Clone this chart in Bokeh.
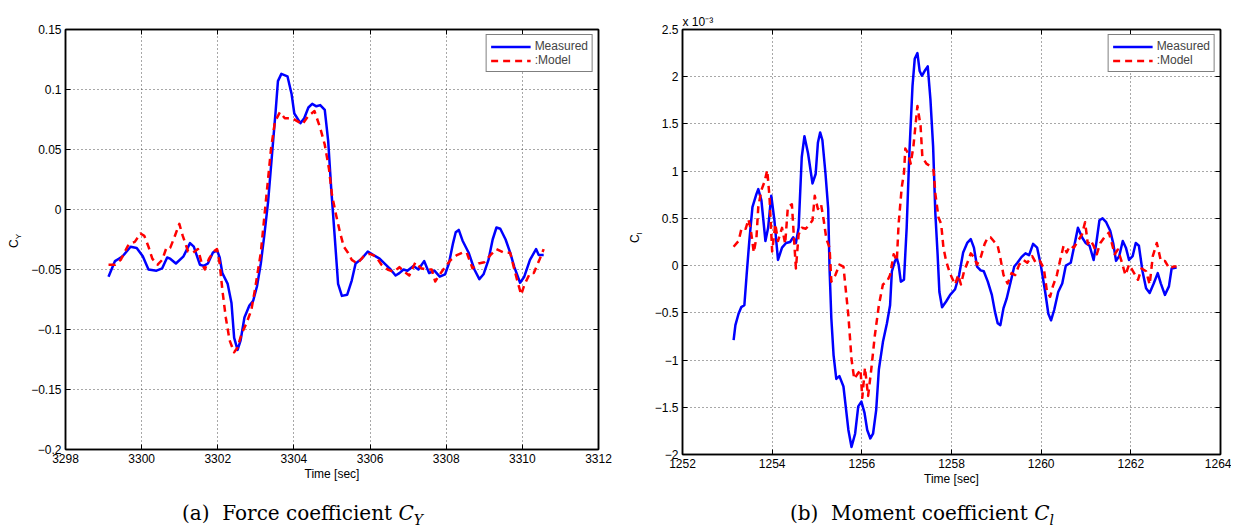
from bokeh.plotting import figure
from bokeh.layouts import row, column
from bokeh.models import (FixedTicker, CustomJSTickFormatter, LinearAxis, Title, Div,
                          Legend, LegendItem, Range1d)
from bokeh.embed import file_html
from bokeh.resources import INLINE

# ---------------- data: (a) side-force coefficient C_Y ----------------
cy_meas_t = [3299.13, 3299.3, 3299.4, 3299.5, 3299.71, 3299.87, 3300.03, 3300.18, 3300.39, 3300.54,
             3300.67, 3300.75, 3300.9, 3301.1, 3301.27, 3301.37, 3301.53, 3301.63, 3301.74, 3301.87,
             3301.98, 3302.05, 3302.12, 3302.26, 3302.36, 3302.43, 3302.52, 3302.6, 3302.7, 3302.83,
             3302.93, 3303.03, 3303.13, 3303.22, 3303.32, 3303.43, 3303.52, 3303.58, 3303.67, 3303.83,
             3303.94, 3304.01, 3304.17, 3304.27, 3304.38, 3304.48, 3304.59, 3304.69, 3304.81, 3304.9,
             3304.98, 3305.07, 3305.16, 3305.26, 3305.4, 3305.52, 3305.62, 3305.78, 3305.94, 3306.09,
             3306.25, 3306.41, 3306.54, 3306.67, 3306.77, 3306.88, 3306.98, 3307.14, 3307.27, 3307.42,
             3307.55, 3307.69, 3307.83, 3307.97, 3308.07, 3308.18, 3308.25, 3308.33, 3308.43, 3308.59,
             3308.74, 3308.87, 3308.98, 3309.11, 3309.22, 3309.32, 3309.42, 3309.56, 3309.68, 3309.79,
             3309.94, 3310.05, 3310.2, 3310.36, 3310.43, 3310.56]
cy_meas = [-0.056, -0.043, -0.041, -0.039, -0.031, -0.032, -0.039, -0.050, -0.051, -0.049,
           -0.040, -0.041, -0.045, -0.039, -0.028, -0.031, -0.046, -0.047, -0.045, -0.036,
           -0.034, -0.040, -0.053, -0.062, -0.078, -0.107, -0.117, -0.109, -0.090, -0.080,
           -0.076, -0.064, -0.045, -0.022, 0.006, 0.048, 0.082, 0.107, 0.113, 0.111,
           0.096, 0.080, 0.072, 0.076, 0.085, 0.088, 0.086, 0.087, 0.083, 0.057,
           0.017, -0.022, -0.062, -0.072, -0.071, -0.059, -0.045, -0.041, -0.035, -0.038,
           -0.041, -0.046, -0.050, -0.055, -0.053, -0.050, -0.051, -0.047, -0.050, -0.043,
           -0.053, -0.051, -0.056, -0.054, -0.045, -0.028, -0.019, -0.017, -0.026, -0.036,
           -0.050, -0.058, -0.054, -0.042, -0.025, -0.015, -0.016, -0.025, -0.036, -0.048,
           -0.061, -0.056, -0.042, -0.033, -0.038, -0.038]

cy_model_t = [3299.13, 3299.3, 3299.45, 3299.66, 3299.82, 3299.97, 3300.07, 3300.18, 3300.28, 3300.42,
              3300.54, 3300.65, 3300.75, 3300.85, 3300.99, 3301.08, 3301.22, 3301.35, 3301.48, 3301.58,
              3301.66, 3301.77, 3301.89, 3301.98, 3302.05, 3302.12, 3302.21, 3302.31, 3302.43, 3302.52,
              3302.62, 3302.75, 3302.88, 3302.98, 3303.13, 3303.26, 3303.4, 3303.5, 3303.63, 3303.76,
              3303.96, 3304.12, 3304.22, 3304.38, 3304.54, 3304.69, 3304.81, 3304.92, 3305.0, 3305.11,
              3305.21, 3305.31, 3305.42, 3305.52, 3305.67, 3305.83, 3305.99, 3306.15, 3306.3, 3306.46,
              3306.62, 3306.77, 3306.9, 3307.03, 3307.19, 3307.34, 3307.5, 3307.62, 3307.71, 3307.81,
              3307.97, 3308.12, 3308.28, 3308.43, 3308.54, 3308.69, 3308.85, 3309.0, 3309.16, 3309.32,
              3309.52, 3309.68, 3309.79, 3309.89, 3309.97, 3310.05, 3310.2, 3310.3, 3310.46, 3310.56]
cy_model = [-0.046, -0.046, -0.042, -0.029, -0.027, -0.020, -0.022, -0.031, -0.041, -0.046,
            -0.042, -0.032, -0.032, -0.024, -0.012, -0.022, -0.035, -0.036, -0.033, -0.045,
            -0.050, -0.041, -0.035, -0.033, -0.045, -0.067, -0.090, -0.109, -0.119, -0.115,
            -0.104, -0.095, -0.084, -0.066, -0.036, 0.006, 0.051, 0.073, 0.081, 0.076,
            0.076, 0.073, 0.071, 0.078, 0.082, 0.068, 0.054, 0.034, 0.012, -0.005,
            -0.019, -0.031, -0.036, -0.042, -0.045, -0.039, -0.037, -0.039, -0.046, -0.050,
            -0.052, -0.048, -0.052, -0.055, -0.044, -0.049, -0.050, -0.050, -0.060, -0.055,
            -0.048, -0.042, -0.038, -0.036, -0.036, -0.049, -0.045, -0.044, -0.038, -0.033,
            -0.036, -0.036, -0.050, -0.062, -0.071, -0.063, -0.053, -0.053, -0.041, -0.033]

# ---------------- data: (b) rolling-moment coefficient C_l (x 10^-3) ----------------
cl_meas_t = [1253.14, 1253.18, 1253.25, 1253.31, 1253.38, 1253.43, 1253.49, 1253.56, 1253.65, 1253.69,
             1253.76, 1253.85, 1253.91, 1253.98, 1254.05, 1254.13, 1254.22, 1254.31, 1254.4, 1254.47,
             1254.53, 1254.59, 1254.66, 1254.72, 1254.8, 1254.9, 1254.97, 1255.02, 1255.07, 1255.12,
             1255.19, 1255.25, 1255.28, 1255.32, 1255.37, 1255.43, 1255.5, 1255.59, 1255.65, 1255.7,
             1255.77, 1255.85, 1255.92, 1255.99, 1256.06, 1256.12, 1256.19, 1256.25, 1256.32, 1256.38,
             1256.47, 1256.56, 1256.63, 1256.67, 1256.74, 1256.78, 1256.82, 1256.87, 1256.94, 1257.0,
             1257.06, 1257.13, 1257.18, 1257.24, 1257.29, 1257.34, 1257.4, 1257.47, 1257.53, 1257.59,
             1257.64, 1257.69, 1257.73, 1257.79, 1257.88, 1257.97, 1258.08, 1258.17, 1258.26, 1258.35,
             1258.43, 1258.5, 1258.57, 1258.65, 1258.72, 1258.81, 1258.9, 1258.97, 1259.03, 1259.09,
             1259.16, 1259.23, 1259.32, 1259.4, 1259.47, 1259.56, 1259.65, 1259.73, 1259.82, 1259.91,
             1259.99, 1260.09, 1260.16, 1260.22, 1260.29, 1260.38, 1260.47, 1260.55, 1260.66, 1260.73,
             1260.82, 1260.91, 1260.99, 1261.08, 1261.17, 1261.23, 1261.3, 1261.37, 1261.45, 1261.54,
             1261.61, 1261.67, 1261.74, 1261.82, 1261.89, 1261.96, 1262.04, 1262.11, 1262.18, 1262.26,
             1262.34, 1262.42, 1262.51, 1262.6, 1262.67, 1262.76, 1262.85, 1262.91, 1263.02]
cl_meas = [-0.79, -0.63, -0.51, -0.44, -0.42, -0.10, 0.26, 0.62, 0.76, 0.81,
           0.69, 0.26, 0.40, 0.74, 0.48, 0.06, 0.19, 0.24, 0.25, 0.30,
           0.24, 0.40, 1.15, 1.37, 1.19, 0.87, 0.97, 1.30, 1.41, 1.33,
           0.97, 0.60, -0.03, -0.56, -0.95, -1.20, -1.17, -1.28, -1.53, -1.74,
           -1.92, -1.78, -1.49, -1.44, -1.56, -1.74, -1.83, -1.78, -1.53, -1.10,
           -0.81, -0.61, -0.42, -0.06, 0.05, 0.08, 0.01, -0.17, -0.15, 0.40,
           1.19, 1.90, 2.19, 2.25, 2.06, 2.01, 2.06, 2.11, 1.76, 1.26,
           0.55, 0.12, -0.28, -0.44, -0.38, -0.31, -0.25, -0.10, 0.14, 0.24,
           0.28, 0.19, -0.01, -0.05, -0.06, -0.17, -0.31, -0.49, -0.61, -0.63,
           -0.45, -0.35, -0.17, -0.01, 0.03, 0.09, 0.13, 0.11, 0.23, 0.19,
           0.01, -0.28, -0.51, -0.58, -0.47, -0.28, -0.19, 0.00, 0.03, 0.19,
           0.40, 0.30, 0.24, 0.21, 0.06, 0.24, 0.48, 0.50, 0.46, 0.37,
           0.23, 0.05, 0.10, 0.26, 0.19, 0.06, 0.10, 0.24, 0.21, -0.06,
           -0.24, -0.29, -0.19, -0.08, -0.19, -0.31, -0.22, -0.03, -0.02]

cl_model_t = [1253.14, 1253.25, 1253.32, 1253.41, 1253.47, 1253.52, 1253.59, 1253.65, 1253.69, 1253.76,
              1253.83, 1253.89, 1253.94, 1254.0, 1254.07, 1254.13, 1254.22, 1254.29, 1254.35, 1254.44,
              1254.49, 1254.53, 1254.59, 1254.66, 1254.75, 1254.84, 1254.9, 1254.95, 1255.02, 1255.09,
              1255.15, 1255.21, 1255.28, 1255.32, 1255.41, 1255.5, 1255.59, 1255.63, 1255.7, 1255.77,
              1255.83, 1255.9, 1255.97, 1256.01, 1256.07, 1256.14, 1256.21, 1256.29, 1256.38, 1256.47,
              1256.56, 1256.63, 1256.71, 1256.78, 1256.82, 1256.89, 1256.94, 1256.97, 1257.03, 1257.09,
              1257.15, 1257.24, 1257.31, 1257.35, 1257.44, 1257.53, 1257.6, 1257.64, 1257.71, 1257.77,
              1257.82, 1257.88, 1257.95, 1258.01, 1258.08, 1258.15, 1258.21, 1258.28, 1258.37, 1258.43,
              1258.5, 1258.57, 1258.66, 1258.74, 1258.81, 1258.87, 1258.94, 1259.03, 1259.09, 1259.16,
              1259.25, 1259.34, 1259.42, 1259.51, 1259.6, 1259.69, 1259.8, 1259.88, 1259.97, 1260.06,
              1260.13, 1260.2, 1260.26, 1260.35, 1260.42, 1260.5, 1260.57, 1260.64, 1260.73, 1260.82,
              1260.91, 1260.98, 1261.04, 1261.1, 1261.17, 1261.24, 1261.32, 1261.41, 1261.51, 1261.58,
              1261.64, 1261.71, 1261.79, 1261.88, 1261.96, 1262.05, 1262.16, 1262.24, 1262.34, 1262.42,
              1262.49, 1262.58, 1262.67, 1262.76, 1262.86, 1262.95, 1263.02]
cl_model = [0.20, 0.26, 0.40, 0.39, 0.49, 0.39, 0.14, 0.30, 0.62, 0.80,
            0.89, 1.01, 0.73, 0.15, 0.44, 0.26, 0.40, 0.23, 0.62, 0.65,
            0.26, -0.03, 0.33, 0.40, 0.39, 0.44, 0.48, 0.74, 0.60, 0.65,
            0.48, 0.28, 0.19, -0.17, -0.10, 0.01, -0.01, -0.20, -0.53, -0.99,
            -1.20, -1.15, -1.10, -1.40, -1.08, -1.38, -1.10, -0.74, -0.42, -0.20,
            -0.17, -0.10, 0.12, 0.05, 0.44, 0.83, 0.98, 1.24, 1.19, 1.08,
            1.26, 1.69, 1.48, 1.15, 1.08, 1.05, 1.01, 0.76, 0.51, 0.44,
            0.19, 0.05, -0.06, -0.13, -0.20, -0.10, -0.20, -0.06, 0.05, 0.13,
            0.09, 0.01, 0.10, 0.23, 0.30, 0.30, 0.26, 0.21, 0.08, -0.10,
            -0.19, -0.08, -0.10, 0.01, 0.06, 0.03, 0.10, 0.03, 0.05, -0.03,
            -0.28, -0.33, -0.22, -0.10, 0.05, 0.21, 0.14, 0.21, 0.19, 0.26,
            0.33, 0.46, 0.23, 0.27, 0.21, 0.12, 0.24, 0.30, 0.35, 0.23,
            0.12, 0.17, 0.05, -0.10, 0.01, -0.06, -0.15, -0.03, -0.06, -0.20,
            0.10, 0.24, 0.05, 0.05, -0.03, -0.01, -0.01]

# ---------------- axes / ticks / labels ----------------
cy_xticks = [3298, 3300, 3302, 3304, 3306, 3308, 3310, 3312]
cy_yticks = [-0.2, -0.15, -0.1, -0.05, 0, 0.05, 0.1, 0.15]
cl_xticks = [1252, 1254, 1256, 1258, 1260, 1262, 1264]
cl_yticks = [-2, -1.5, -1, -0.5, 0, 0.5, 1, 1.5, 2, 2.5]
legend_labels = ["Measured", ":Model"]
xlabel = "Time [sec]"
cy_label_sub = "Y"
cl_label_sub = "l"
cl_multiplier = "x 10\u207b\u00b3"
caption_a = "(a)&nbsp;&nbsp;Force coefficient <i>C<sub>Y</sub></i>"
caption_b = "(b)&nbsp;&nbsp;Moment coefficient <i>C<sub>l</sub></i>"

SANS = "Liberation Sans"
FIG_H = 489

fmt_code = """
const v = Number(tick.toFixed(4));
return v < 0 ? "\u2212" + String(-v) : String(v);
"""


def make_panel(xr, yr, xticks, yticks, frame_w, frame_h, bl, br, bt, bb):
    p = figure(frame_width=frame_w, frame_height=frame_h,
               x_range=Range1d(*xr), y_range=Range1d(*yr),
               output_backend="svg", toolbar_location=None,
               min_border_left=bl, min_border_right=br,
               min_border_top=bt, min_border_bottom=bb)
    p.background_fill_color = "white"
    p.border_fill_color = "white"
    p.outline_line_color = "black"
    p.outline_line_width = 1.5
    p.add_layout(LinearAxis(), "above")
    p.add_layout(LinearAxis(), "right")
    p.xaxis.ticker = FixedTicker(ticks=xticks)
    p.yaxis.ticker = FixedTicker(ticks=yticks)
    for ax in p.xaxis + p.yaxis:
        ax.formatter = CustomJSTickFormatter(code=fmt_code)
        ax.axis_line_color = "black"
        ax.axis_line_width = 1.5
        ax.major_tick_in = 5
        ax.major_tick_out = 0
        ax.minor_tick_in = 0
        ax.minor_tick_out = 0
        ax.major_tick_line_color = "black"
        ax.minor_tick_line_color = None
        ax.major_label_text_font = SANS
        ax.major_label_text_font_size = "12px"
        ax.major_label_text_color = "black"
        ax.axis_label_text_font = SANS
        ax.axis_label_text_font_style = "normal"
        ax.axis_label_text_color = "black"
    # tick-only axes on top and right (MATLAB box)
    for ax in (p.xaxis[0], p.yaxis[1]):
        ax.major_label_text_color = None
        ax.major_label_text_font_size = "1px"
        ax.major_label_standoff = 0
    bottom, left = p.xaxis[1], p.yaxis[0]
    bottom.major_label_standoff = 4
    left.major_label_standoff = 4
    bottom.axis_label = xlabel
    bottom.axis_label_text_font_size = "12px"
    bottom.axis_label_standoff = 1
    p.xgrid.ticker = FixedTicker(ticks=xticks)
    p.ygrid.ticker = FixedTicker(ticks=yticks)
    for g in (p.xgrid, p.ygrid):
        g.grid_line_color = "#333333"
        g.grid_line_alpha = 0.85
        g.grid_line_dash = "1 3"
        g.grid_line_width = 1
    return p


def add_lines(p, tm, vm, tmod, vmod):
    r1 = p.line(tm, vm, line_color="#0000ff", line_width=2.5, line_join="round")
    r2 = p.line(tmod, vmod, line_color="#ff0000", line_width=2.5, line_dash="7 5",
                line_join="round")
    leg = Legend(items=[LegendItem(label=legend_labels[0], renderers=[r1]),
                        LegendItem(label=legend_labels[1], renderers=[r2])],
                 location="top_right", margin=5, padding=4, spacing=0,
                 glyph_width=40, glyph_height=13, label_height=13, label_standoff=4,
                 label_text_font=SANS, label_text_font_size="12px",
                 border_line_color="black", border_line_width=1.5,
                 background_fill_color="white", background_fill_alpha=1.0)
    p.add_layout(leg)


def ylabel_div(width, x, y, sub):
    # rotated (bottom-to-top) axis title "C_sub", text starts at (x, y) and runs upward
    inner = ('<div style="position:absolute; left:%.1fpx; top:%.1fpx; transform:rotate(-90deg); '
             'transform-origin:left top; font-family:\'Liberation Sans\',sans-serif; '
             'font-size:12px; line-height:12px; white-space:nowrap; color:black;">'
             'C<sub style="font-size:8px; line-height:0;">%s</sub></div>') % (x, y, sub)
    html = ('<div style="position:relative; width:%dpx; height:%dpx;">%s</div>'
            % (width, FIG_H, inner))
    return Div(text=html, width=width, height=FIG_H, margin=0)


def caption(html, width, pad_left):
    style = ("font-family:'DejaVu Serif',serif; font-size:20px; line-height:23px; "
             "color:black; white-space:nowrap; padding-top:13px; padding-left:%dpx;" % pad_left)
    return Div(text='<div style="%s">%s</div>' % (style, html.replace(
        "<sub>", '<sub style="font-size:14px; line-height:0;">')),
        width=width, height=38, margin=0)


# ---------------- panel (a) ----------------
# frame: x 65..598, y 29..449 (page px)
pa = make_panel((3298, 3312), (-0.2, 0.15), cy_xticks, cy_yticks,
                533, 420, 40, 28, 29, 40)
add_lines(pa, cy_meas_t, cy_meas, cy_model_t, cy_model)
yl_a = ylabel_div(25, 8.0, 248.0, cy_label_sub)

# ---------------- panel (b) ----------------
# frame: x 681..1219, y 24..449 (page px)
pb = make_panel((1252, 1264), (-2, 2.5), cl_xticks, cl_yticks,
                538, 425, 30, 11, 24, 40)
add_lines(pb, cl_meas_t, cl_meas, cl_model_t, cl_model)
pb.add_layout(Title(text=cl_multiplier, align="left", offset=0, vertical_align="bottom",
                    standoff=2, text_font=SANS, text_font_size="12px",
                    text_font_style="normal", text_color="black"), "above")
yl_b = ylabel_div(25, 2.5, 242.5, cl_label_sub)

cap_a = caption(caption_a, 626, 182)
cap_b = caption(caption_b, 604, 164)

layout = column(row(yl_a, pa, yl_b, pb), row(cap_a, cap_b))
open("out.html", "w").write(file_html(layout, INLINE))
